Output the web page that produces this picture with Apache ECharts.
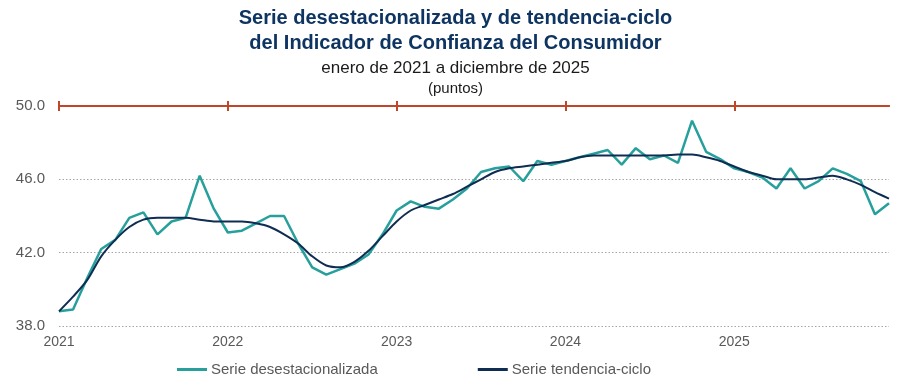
<!DOCTYPE html>
<html>
<head>
<meta charset="utf-8">
<script src="https://cdn.jsdelivr.net/npm/echarts@6/dist/echarts.min.js"></script>
<style>
html,body{margin:0;padding:0;background:#fff;}
#c{width:911px;height:391px;}
</style>
</head>
<body>
<div id="c"></div>
<script>
var categories = [
 '2021-01','2021-02','2021-03','2021-04','2021-05','2021-06','2021-07','2021-08','2021-09','2021-10','2021-11','2021-12',
 '2022-01','2022-02','2022-03','2022-04','2022-05','2022-06','2022-07','2022-08','2022-09','2022-10','2022-11','2022-12',
 '2023-01','2023-02','2023-03','2023-04','2023-05','2023-06','2023-07','2023-08','2023-09','2023-10','2023-11','2023-12',
 '2024-01','2024-02','2024-03','2024-04','2024-05','2024-06','2024-07','2024-08','2024-09','2024-10','2024-11','2024-12',
 '2025-01','2025-02','2025-03','2025-04','2025-05','2025-06','2025-07','2025-08','2025-09','2025-10','2025-11','2025-12'
];
var yearLabels = ['2021','2022','2023','2024','2025'];
var desestacionalizada = [
 38.8, 38.9, 40.6, 42.2, 42.7, 43.9, 44.2, 43.0, 43.7, 43.9, 46.2, 44.4,
 43.1, 43.2, 43.6, 44.0, 44.0, 42.5, 41.2, 40.8, 41.1, 41.4, 41.9, 43.0,
 44.3, 44.8, 44.5, 44.4, 44.9, 45.5, 46.4, 46.6, 46.7, 45.9, 47.0, 46.8,
 47.0, 47.2, 47.4, 47.6, 46.8, 47.7, 47.1, 47.3, 46.9, 49.2, 47.5, 47.1,
 46.6, 46.4, 46.1, 45.5, 46.6, 45.5, 45.9, 46.6, 46.3, 45.9, 44.1, 44.7
];
var tendenciaCiclo = [
 38.8, 39.6, 40.5, 41.8, 42.7, 43.4, 43.8, 43.9, 43.9, 43.9, 43.8, 43.7,
 43.7, 43.7, 43.6, 43.4, 43.0, 42.5, 41.8, 41.3, 41.2, 41.5, 42.1, 42.9,
 43.7, 44.3, 44.6, 44.9, 45.2, 45.6, 46.0, 46.4, 46.6, 46.7, 46.8, 46.9,
 47.0, 47.2, 47.3, 47.3, 47.3, 47.3, 47.3, 47.3, 47.35, 47.35, 47.2, 47.0,
 46.7, 46.4, 46.2, 46.0, 46.0, 46.0, 46.1, 46.2, 46.0, 45.7, 45.3, 44.95
];
var seriesNames = ['Serie desestacionalizada', 'Serie tendencia-ciclo'];
var titleLines = ['Serie desestacionalizada y de tendencia-ciclo', 'del Indicador de Confianza del Consumidor'];
var subtitle = 'enero de 2021 a diciembre de 2025';
var unitsLabel = '(puntos)';

var chart = echarts.init(document.getElementById('c'));
var font = 'Liberation Sans, Arial, sans-serif';
var red = '#C0462A';
var topAxisBase = {
  type: 'category', data: categories, boundaryGap: false, position: 'top',
  axisLine: {show: true, lineStyle: {color: red, width: 2}},
  axisLabel: {show: false}, splitLine: {show: false}
};
var titleStyle = {fontFamily: font, fontSize: 20, fontWeight: 'bold', color: '#0E3461', lineHeight: 24};
chart.setOption({
  animation: false,
  textStyle: {fontFamily: font},
  title: [
    {text: titleLines[0], left: 'center', top: 6, padding: 0, textStyle: titleStyle},
    {text: titleLines[1], left: 'center', top: 31, padding: 0, textStyle: titleStyle},
    {text: subtitle, left: 'center', top: 58, padding: 0,
     textStyle: {fontFamily: font, fontSize: 17, fontWeight: 'normal', color: '#1a1a1a', lineHeight: 20}},
    {text: unitsLabel, left: 'center', top: 80, padding: 0,
     textStyle: {fontFamily: font, fontSize: 15, fontWeight: 'normal', color: '#1a1a1a', lineHeight: 18}}
  ],
  legend: {
    bottom: 14, left: 177, itemGap: 100, itemWidth: 30, itemHeight: 3, padding: 0,
    icon: 'rect',
    textStyle: {fontFamily: font, fontSize: 15, color: '#595959', padding: [0,0,0,-1]},
    data: seriesNames
  },
  grid: {left: 59, right: 22, top: 106, bottom: 65},
  xAxis: [
    {type: 'category', data: categories, boundaryGap: false, position: 'bottom',
     axisLine: {show: false}, axisTick: {show: false}, splitLine: {show: false},
     axisLabel: {interval: 11, margin: 9, color: '#595959', fontSize: 14, fontFamily: font,
       formatter: function (v, i) { return yearLabels[i / 12] || ''; }}},
    Object.assign({}, topAxisBase, {axisTick: {show: true, interval: 11, length: 5, inside: false, lineStyle: {color: red, width: 2}}}),
    Object.assign({}, topAxisBase, {axisTick: {show: true, interval: 11, length: 5, inside: true, lineStyle: {color: red, width: 2}}})
  ],
  yAxis: {
    type: 'value', min: 38, max: 50, interval: 4,
    axisLine: {show: false}, axisTick: {show: false},
    axisLabel: {color: '#595959', fontSize: 15, fontFamily: font, margin: 14,
      formatter: function (v) { return v.toFixed(1); }},
    splitLine: {show: true, lineStyle: {color: '#A6A6A6', type: [1.5, 2], width: 1}}
  },
  series: [
    {name: seriesNames[0], type: 'line', data: desestacionalizada, xAxisIndex: 0,
     symbol: 'none', showSymbol: false, smooth: false, z: 2,
     lineStyle: {color: '#27A09C', width: 2.5}, itemStyle: {color: '#27A09C'}},
    {name: seriesNames[1], type: 'line', data: tendenciaCiclo, xAxisIndex: 0,
     symbol: 'none', showSymbol: false, smooth: 0.3, z: 3,
     lineStyle: {color: '#0F2D52', width: 2}, itemStyle: {color: '#0F2D52'}}
  ]
});
</script>
</body>
</html>
